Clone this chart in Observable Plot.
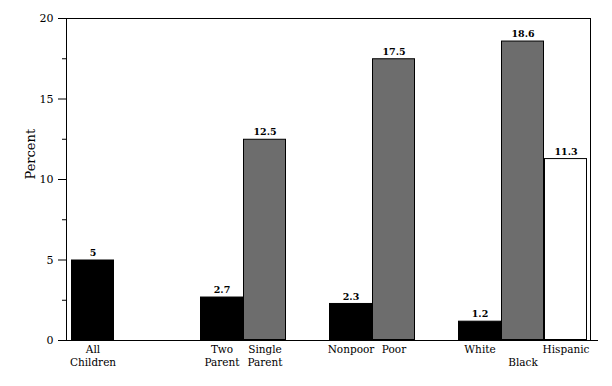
<!DOCTYPE html>
<html>
<head>
<meta charset="utf-8">
<script src="https://cdn.jsdelivr.net/npm/d3@7"></script>
<script src="https://cdn.jsdelivr.net/npm/@observablehq/plot@0.6"></script>
<style>
  body { margin: 0; background: #fff; }
  svg { font-family: "DejaVu Serif", serif; }
</style>
</head>
<body>
<div id="chart"></div>
<script>
// Categories, in display order, grouped; gaps (empty slots) between groups
const groups = [
  ["All Children"],
  ["Two Parent", "Single Parent"],
  ["Nonpoor", "Poor"],
  ["White", "Black", "Hispanic"]
];
const gapsAfter = [2, 1, 1, 0];
const values = {
  "All Children": 5,
  "Two Parent": 2.7,
  "Single Parent": 12.5,
  "Nonpoor": 2.3,
  "Poor": 17.5,
  "White": 1.2,
  "Black": 18.6,
  "Hispanic": 11.3
};
const valueLabels = ["5", "2.7", "12.5", "2.3", "17.5", "1.2", "18.6", "11.3"];
const tickLabels = {
  "All Children": "All\nChildren",
  "Two Parent": "Two\nParent",
  "Single Parent": "Single\nParent",
  "Nonpoor": "Nonpoor",
  "Poor": "Poor",
  "White": "White",
  "Black": "\nBlack",
  "Hispanic": "Hispanic"
};
const kinds = {
  "All Children": "base",
  "Two Parent": "base",
  "Single Parent": "risk",
  "Nonpoor": "base",
  "Poor": "risk",
  "White": "base",
  "Black": "risk",
  "Hispanic": "other"
};
const yTicks = [0, 5, 10, 15, 20];
const yMinorTicks = [2.5, 7.5, 12.5, 17.5];

// Build band domain with placeholder gap slots
const domain = [];
groups.forEach((g, i) => {
  g.forEach(c => domain.push(c));
  for (let k = 0; k < gapsAfter[i]; k++) domain.push(`gap${i}_${k}`);
});
const cats = groups.flat();
const data = cats.map((c, i) => ({cat: c, value: values[c], label: valueLabels[i], kind: kinds[c]}));

const chart = Plot.plot({
  width: 612,
  height: 386,
  marginLeft: 66,
  marginRight: 22,
  marginTop: 18,
  marginBottom: 46,
  style: {fontFamily: "'DejaVu Serif', serif", fontSize: "10px", color: "#000", background: "#fff"},
  x: {domain, padding: 0, insetLeft: 2, insetRight: 1, axis: null},
  y: {domain: [0, 20], axis: null},
  color: {domain: ["base", "risk", "other"], range: ["#000000", "#6d6d6d", "#ffffff"]},
  marks: [
    Plot.barY(data, {x: "cat", y: "value", fill: "kind", stroke: "#000", strokeWidth: 1, inset: 0.5}),
    Plot.frame({stroke: "#000"}),
    Plot.ruleY([0], {stroke: "#000", insetLeft: -8, insetRight: -8}),
    Plot.axisY({ticks: yTicks, tickSize: 8, tickPadding: 5, label: null, fontSize: 11}),
    Plot.axisY({ticks: yMinorTicks, tickSize: 4, tickFormat: () => "", label: null}),
    Plot.text(["Percent"], {
      frameAnchor: "left", dx: -36, rotate: -90, fontSize: 13, fill: "#000",
      x: null, y: null
    }),
    Plot.text(data, {x: "cat", y: "value", text: "label", dy: -7, fontWeight: "bold", fontSize: 9.5, fill: "#000"}),
    Plot.text(data, {
      x: "cat", y: 0, text: d => tickLabels[d.cat], lineAnchor: "top", dy: 4,
      fontSize: 10.5, fill: "#000", lineHeight: 1.2
    })
  ]
});
document.getElementById("chart").appendChild(chart);
</script>
</body>
</html>
